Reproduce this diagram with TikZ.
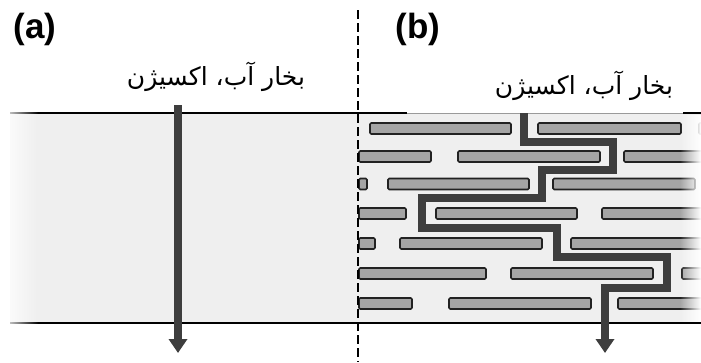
\documentclass[tikz,border=0pt]{standalone}
\usepackage{fontspec}
\usetikzlibrary{arrows.meta,fadings}
\newfontfamily\labelfont{Liberation Sans}
\newfontfamily\arabicfont[Script=Arabic]{DejaVu Sans}
\TeXXeTstate=1

\definecolor{filmgray}{HTML}{EFEFEF}
\definecolor{brickfill}{HTML}{A5A5A5}
\definecolor{brickedge}{HTML}{222222}
\definecolor{flowgray}{HTML}{3E3E3E}
\definecolor{rimgray}{HTML}{9A9A9A}

\tikzfading[name=fadeleftedge, left color=transparent!0, right color=transparent!100]
\tikzfading[name=faderightedge, left color=transparent!100, right color=transparent!0]

\tikzset{
  brick/.style={fill=brickfill, draw=brickedge, line width=1.6pt, rounded corners=1.2pt},
  filmline/.style={draw=black, line width=2.2pt},
  flow/.style={draw=flowgray, line width=7.5pt, miter limit=10,
    -{Triangle[width=18pt,length=14pt]}},
  divider/.style={draw=black, line width=1.8pt, dash pattern=on 9pt off 4pt},
  panel/.style={font=\labelfont\bfseries\fontsize{35}{40}\selectfont},
  gaslabel/.style={font=\arabicfont\fontsize{25}{30}\selectfont}
}

\newcommand{\brickrow}[2]{%
  \foreach \xa/\xb in {#2} {\draw[brick] (\xa,#1-5.5) rectangle (\xb,#1+5.5);}%
}

\begin{document}
\begin{tikzpicture}[x=1pt,y=-1pt]
\useasboundingbox (0,0) rectangle (701,362);

% membrane body
\fill[filmgray] (10,113) rectangle (701,323);

% platelets of the composite film (right half)
\begin{scope}
  \clip (358,100) rectangle (701,330);
  \brickrow{128.5}{370/511,538/681,699/712}
  \brickrow{156.5}{359/431,458/600,624/720}
  \brickrow{184}{359/367,388/529,553/695}
  \brickrow{213.5}{359/406,436/577,602/720}
  \brickrow{243.5}{359/375,400/542,571/720}
  \brickrow{273.5}{359/486,511/653,682/720}
  \brickrow{303.5}{359/412,449/591,618/720}
\end{scope}

% film surfaces
\draw[filmline] (10,113) -- (358,113);
\draw[filmline] (358,113) -- (407,113);
\draw[rimgray, line width=0.8pt] (407,113) -- (683,113);
\draw[filmline] (10,323) -- (701,323);

% soft edges of the cut
\fill[white, path fading=fadeleftedge] (0,100) rectangle (38,335);
\fill[white, path fading=faderightedge] (680,115) rectangle (701,321.5);
\draw[filmline] (683,113) -- (701,113);

% divider between the two panels
\coordinate (divtop) at (358,10);
\coordinate (divbot) at (358,362);
\draw[divider] (divtop) -- (divbot);

% straight permeation path
\coordinate (ain) at (178,105);
\coordinate (aout) at (178,353);
\draw[flow] (ain) -- (aout);

% tortuous permeation path
\coordinate (b0) at (524,113);
\coordinate (b1) at (524,142);
\coordinate (b2) at (613,142);
\coordinate (b3) at (613,170);
\coordinate (b4) at (542,170);
\coordinate (b5) at (542,198);
\coordinate (b6) at (422,198);
\coordinate (b7) at (422,228);
\coordinate (b8) at (557,228);
\coordinate (b9) at (557,257);
\coordinate (b10) at (667,257);
\coordinate (b11) at (667,288);
\coordinate (b12) at (605,288);
\coordinate (bout) at (605,353);
\draw[flow] (b0) -- (b1) -- (b2) -- (b3) -- (b4) -- (b5) -- (b6) -- (b7)
  -- (b8) -- (b9) -- (b10) -- (b11) -- (b12) -- (bout);

% labels
\node[panel] (pa) at (35,29) {(a)};
\node[panel] (pb) at (418,29) {(b)};
\node[gaslabel] (gasa) at (216,77) {\beginR بخار آب، اکسیژن\endR};
\node[gaslabel] (gasb) at (584,86) {\beginR بخار آب، اکسیژن\endR};
\end{tikzpicture}
\end{document}
